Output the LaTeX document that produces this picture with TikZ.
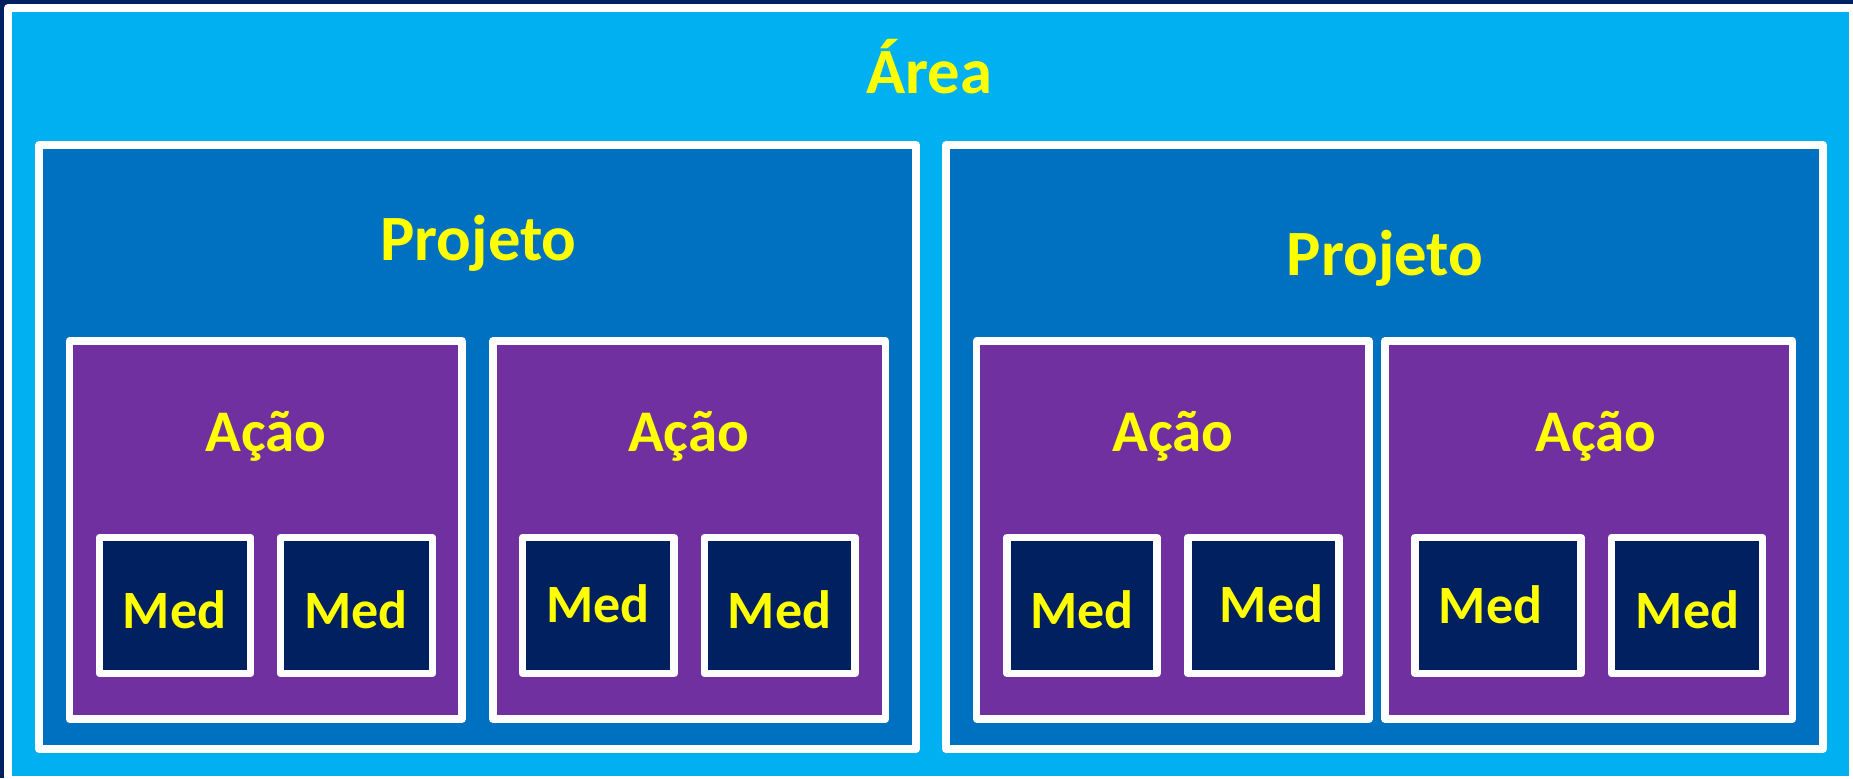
\documentclass[tikz,border=0pt]{standalone}
\usepackage{fontspec}
\setmainfont{Carlito}
\usetikzlibrary{fit}
\definecolor{navyc}{HTML}{002060}
\definecolor{lightb}{HTML}{00B0F0}
\definecolor{projc}{HTML}{0070C0}
\definecolor{acaoc}{HTML}{7030A0}
\definecolor{yel}{HTML}{FFFF00}
\tikzset{
  wbox/.style={draw=white, line width=3.75pt, line join=round, inner sep=0pt, outer sep=0pt},
  areabox/.style={wbox, fill=lightb},
  projbox/.style={wbox, fill=projc},
  acaobox/.style={wbox, fill=acaoc},
  medbox/.style={wbox, fill=navyc},
  biglbl/.style={text=yel, font=\fontsize{32.3}{39}\selectfont\bfseries, anchor=base, inner sep=0pt},
  acaolbl/.style={text=yel, font=\fontsize{29.5}{35}\selectfont\bfseries, anchor=base, inner sep=0pt},
  medlbl/.style={text=yel, font=\fontsize{27}{32}\selectfont\bfseries, anchor=base, inner sep=0pt}
}
\begin{document}
\begin{tikzpicture}[x=0.5pt, y=-0.5pt]
\useasboundingbox (0,0) rectangle (1853,778);
\clip (0,0) rectangle (1853,778);
\fill[navyc] (0,0) rectangle (1853,778);
% outer area
\node[areabox, fit={(8,8) (1853,780)}] (area) {};
% projects
\node[projbox, fit={(39,145) (916,749)}] (projL) {};
\node[projbox, fit={(946,145) (1823,749)}] (projR) {};
% actions
\node[acaobox, fit={(69.5,341) (462,719)}] (a1) {};
\node[acaobox, fit={(493,341) (885.5,719)}] (a2) {};
\node[acaobox, fit={(976.7,341) (1369,719)}] (a3) {};
\node[acaobox, fit={(1385,341) (1792.6,719)}] (a4) {};
% measures
\node[medbox, fit={(99.5,537.5) (250.5,673.5)}] (m1) {};
\node[medbox, fit={(280.5,537.5) (432.5,673.5)}] (m2) {};
\node[medbox, fit={(522.7,537.5) (674,673.5)}] (m3) {};
\node[medbox, fit={(704.5,537.5) (855,673.5)}] (m4) {};
\node[medbox, fit={(1007,537.5) (1157,673.5)}] (m5) {};
\node[medbox, fit={(1188,537.5) (1339,673.5)}] (m6) {};
\node[medbox, fit={(1415,537.5) (1581,673.5)}] (m7) {};
\node[medbox, fit={(1611.6,537.5) (1762.6,673.5)}] (m8) {};
% labels
\node[biglbl] (tarea) at (929.5,93.3) {Área};
\node[biglbl] (tprojL) at (478.5,260) {Projeto};
\node[biglbl] (tprojR) at (1385,275) {Projeto};
\node[acaolbl] (ta1) at (265.9,451.7) {Ação};
\node[acaolbl] (ta2) at (688.7,451.7) {Ação};
\node[acaolbl] (ta3) at (1173,451.7) {Ação};
\node[acaolbl] (ta4) at (1596,451.5) {Ação};
\node[medlbl] (tm1) at (174.5,628) {Med};
\node[medlbl] (tm2) at (356,628) {Med};
\node[medlbl] (tm3) at (598,622.7) {Med};
\node[medlbl] (tm4) at (779.5,628) {Med};
\node[medlbl] (tm5) at (1082,628) {Med};
\node[medlbl] (tm6) at (1271.5,622.7) {Med};
\node[medlbl] (tm7) at (1490.5,623.7) {Med};
\node[medlbl] (tm8) at (1687.5,628) {Med};
\end{tikzpicture}
\end{document}
